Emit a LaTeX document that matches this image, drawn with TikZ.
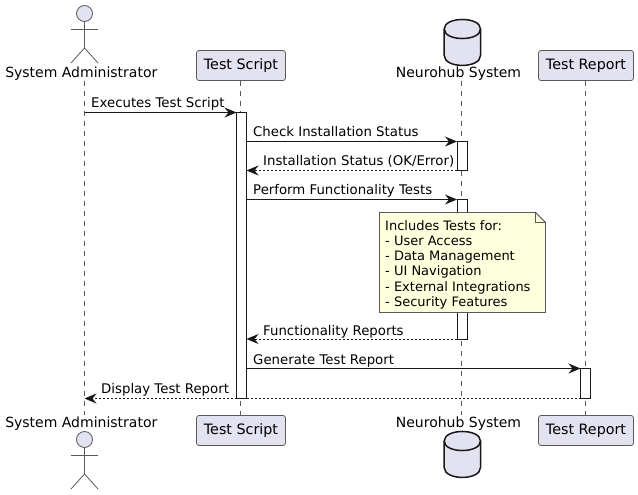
\documentclass[tikz,border=0pt]{standalone}
\usepackage{fontspec}
\setmainfont{DejaVu Sans}
\usetikzlibrary{arrows.meta}
\definecolor{ink}{HTML}{181818}
\definecolor{thin}{HTML}{5A5A5A}
\definecolor{partfill}{HTML}{E2E2F0}
\definecolor{notefill}{HTML}{FEFFDD}
\tikzset{
  x=1pt,y=-1pt,
  partbox/.style={draw=thin,line width=0.8pt,fill=partfill,rounded corners=2.5pt,minimum height=30pt,inner sep=0pt,text=black},
  boxlabel/.style={inner sep=0pt,font=\fontsize{14.3}{16}\selectfont,text=black},
  partlabel/.style={inner sep=0pt,font=\fontsize{14}{16}\selectfont,text=black},
  life/.style={draw=thin,line width=0.6pt,dash pattern=on 5pt off 5pt},
  bar/.style={draw=ink,line width=1pt,fill=white,minimum width=10pt,inner sep=0pt,outer sep=0pt},
  msg/.style={draw=ink,line width=1pt,-{Stealth[length=12pt,width=10pt,inset=4pt]}},
  reply/.style={msg,dash pattern=on 2pt off 2pt},
  msgtext/.style={anchor=base west,inner sep=0pt,font=\fontsize{13.3}{15}\selectfont,text=black},
  actorline/.style={draw=thin,line width=0.8pt},
  dbshape/.style={draw=ink,line width=1.5pt,fill=partfill},
  notetext/.style={anchor=north west,inner sep=0pt,align=left,font=\fontsize{13}{15.2}\selectfont,text=black},
  notebox/.style={draw=thin,line width=0.8pt,fill=notefill}
}
\begin{document}
\begin{tikzpicture}
\useasboundingbox (0,0) rectangle (638,495);
% participant labels and boxes
\node[partlabel] (admT) at (81.3,73.5) {System Administrator};
\node[partlabel] (admB) at (81.3,423.5) {System Administrator};
\node[partbox,minimum width=89pt] (scrT) at (241,65.5) {};
\node[partbox,minimum width=89pt] (scrB) at (241,430.5) {};
\node[boxlabel] (scrTl) at (241,66) {Test Script};
\node[boxlabel] (scrBl) at (241,431) {Test Script};
\node[partlabel] (dbT) at (458.5,73.5) {Neurohub System};
\node[partlabel] (dbB) at (458.5,423.5) {Neurohub System};
\node[partbox,minimum width=95pt] (repT) at (586,65.5) {};
\node[partbox,minimum width=95pt] (repB) at (586,430.5) {};
\node[boxlabel] (repTl) at (586,66) {Test Report};
\node[boxlabel] (repBl) at (586,431) {Test Report};
% lifelines
\coordinate (l1t) at (84.5,81); \coordinate (l1b) at (84.5,415);
\coordinate (l3t) at (461.5,81); \coordinate (l3b) at (461.5,415);
\draw[life] (l1t) -- (l1b);
\draw[life] (scrT.south -| 240,0) -- (scrB.north -| 240,0);
\draw[life] (l3t) -- (l3b);
\draw[life] (repT.south -| 585.5,0) -- (repB.north -| 585.5,0);
% actors
\foreach \n/\y in {T/0,B/426}{
  \node[draw=thin,line width=0.8pt,fill=partfill,circle,minimum size=16pt,inner sep=0pt] (head\n) at (84.5,13.5+\y) {};
  \coordinate (hip\n) at (84.5,48+\y);
  \draw[actorline] (head\n.south) -- (hip\n);
  \draw[actorline] (71,29+\y) -- (98,29+\y);
  \draw[actorline] (71,63+\y) -- (hip\n) -- (98,63+\y);
}
% databases
\draw[dbshape] (444.2,29) .. controls (444.2,16.3) and (480.5,16.3) .. (480.5,29)
  -- (480.5,55.5) .. controls (480.5,68.7) and (444.2,68.7) .. (444.2,55.5) -- cycle;
\draw[dbshape,fill=none] (444.2,29) .. controls (444.2,41.7) and (480.5,41.7) .. (480.5,29);
\draw[dbshape] (444.2,441) .. controls (444.2,428.3) and (480.5,428.3) .. (480.5,441)
  -- (480.5,467.5) .. controls (480.5,480.7) and (444.2,480.7) .. (444.2,467.5) -- cycle;
\draw[dbshape,fill=none] (444.2,441) .. controls (444.2,453.7) and (480.5,453.7) .. (480.5,441);
% activation bars
\node[bar,minimum height=286pt] (aScr) at (241.5,255.5) {};
\node[bar,minimum height=29pt] (aDb1) at (462,156) {};
\node[bar,minimum height=139.5pt] (aDb2) at (462,269.25) {};
\node[bar,minimum height=30pt] (aRep) at (585.5,383.5) {};
% message end points
\coordinate (m1) at (84.5,112.5);
\coordinate (m7) at (84.5,398.5);
% messages
\draw[msg] (m1) -- (aScr.north west);
\draw[msg] (aScr.east |- aDb1.north) -- (aDb1.north west);
\draw[reply] (aDb1.south west) -- (aScr.east |- aDb1.south);
\draw[msg] (aScr.east |- aDb2.north) -- (aDb2.north west);
\draw[reply] (aDb2.south west) -- (aScr.east |- aDb2.south);
\draw[msg] (aScr.east |- aRep.north) -- (aRep.north west);
\draw[reply] (aRep.south west) -- (m7);
\node[msgtext] (t1) at (91,107.5) {Executes Test Script};
\node[msgtext] (t2) at (253,136.5) {Check Installation Status};
\node[msgtext] (t3) at (263,165.5) {Installation Status (OK/Error)};
\node[msgtext] (t4) at (253,194.5) {Perform Functionality Tests};
\node[msgtext] (t5) at (263,335.5) {Functionality Reports};
\node[msgtext] (t6) at (253,364.5) {Generate Test Report};
\node[msgtext] (t7) at (101,393.5) {Display Test Report};
% note
\draw[notebox] (379.5,212.5) -- (535.5,212.5) -- (545.5,222.5) -- (545.5,312.5) -- (379.5,312.5) -- cycle;
\draw[notebox] (535.5,212.5) -- (535.5,222.5) -- (545.5,222.5) -- cycle;
\node[notetext] (note) at (385,220.3) {Includes Tests for:\\- User Access\\- Data Management\\- UI Navigation\\- External Integrations\\- Security Features};
\end{tikzpicture}
\end{document}
